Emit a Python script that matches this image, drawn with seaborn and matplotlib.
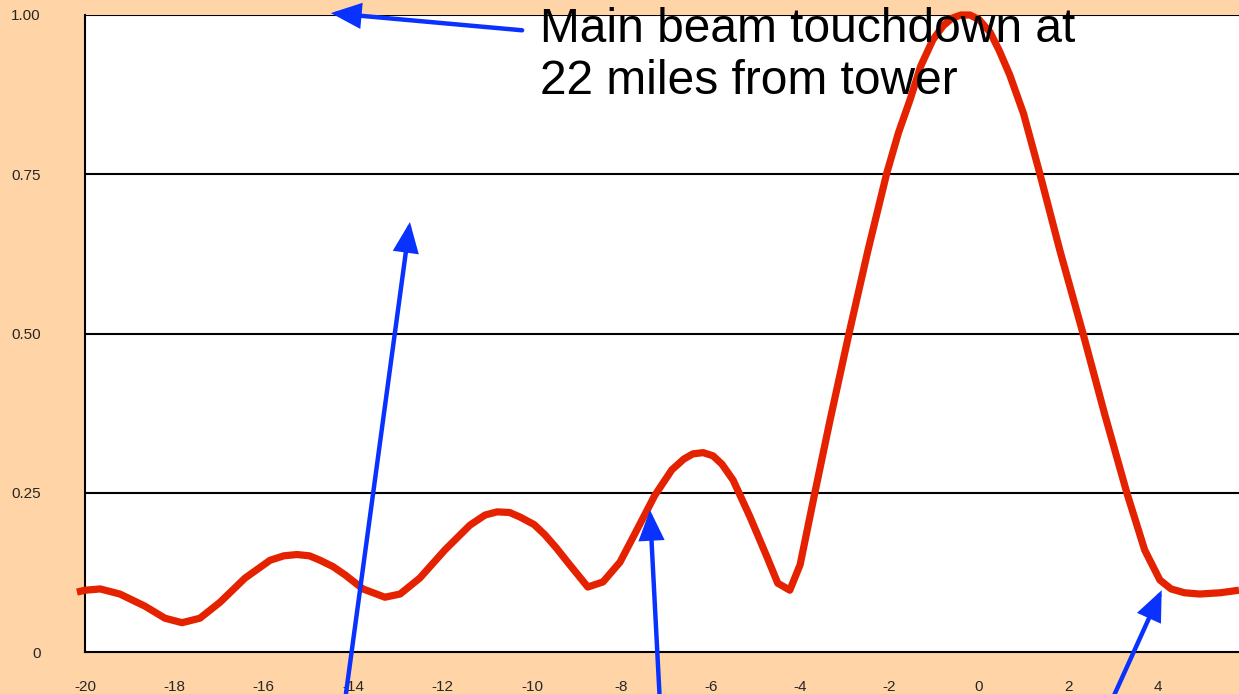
import matplotlib
matplotlib.use('Agg')
import matplotlib.pyplot as plt
import seaborn as sns
import pandas as pd

# distance from tower (miles) vs. relative beam strength
distance = [-20.18, -20.0, -19.66, -19.22, -18.66, -18.21, -17.83, -17.43, -16.98, -16.42,
            -15.86, -15.55, -15.26, -14.98, -14.74, -14.45, -14.18, -13.78, -13.29, -12.95,
            -12.51, -11.95, -11.39, -11.05, -10.78, -10.5, -10.27, -9.95, -9.71, -9.45,
            -9.19, -8.75, -8.41, -8.03, -7.65, -7.25, -6.87, -6.6, -6.4, -6.17,
            -5.95, -5.75, -5.5, -5.12, -4.74, -4.5, -4.23, -4.0, -3.67, -3.33,
            -2.89, -2.48, -2.06, -1.8, -1.54, -1.3, -1.03, -0.8, -0.6, -0.4,
            -0.2, 0.0, 0.25, 0.45, 0.69, 1.0, 1.36, 1.81, 2.33, 2.82,
            3.31, 3.71, 4.05, 4.3, 4.6, 4.94, 5.4, 5.82]
strength = [0.094, 0.097, 0.099, 0.091, 0.072, 0.053, 0.046, 0.053, 0.078, 0.116,
            0.144, 0.151, 0.153, 0.151, 0.144, 0.134, 0.121, 0.099, 0.086, 0.091,
            0.116, 0.16, 0.199, 0.215, 0.22, 0.219, 0.212, 0.2, 0.184, 0.163,
            0.14, 0.102, 0.11, 0.141, 0.192, 0.246, 0.286, 0.303, 0.311, 0.313,
            0.308, 0.295, 0.27, 0.212, 0.149, 0.108, 0.097, 0.137, 0.25, 0.364,
            0.505, 0.631, 0.752, 0.815, 0.867, 0.92, 0.961, 0.983, 0.995, 1.0,
            1.0, 0.993, 0.973, 0.945, 0.906, 0.845, 0.752, 0.631, 0.50, 0.372,
            0.25, 0.16, 0.113, 0.099, 0.093, 0.091, 0.093, 0.097]

x_ticks = [-20, -18, -16, -14, -12, -10, -8, -6, -4, -2, 0, 2, 4]
y_ticks = [0, 0.25, 0.5, 0.75, 1.0]
y_tick_labels = ['0', '0.25', '0.50', '0.75', '1.00']

note = 'Main beam touchdown at\n22 miles from tower'

peach = '#FFD5A8'
red = '#E52200'
blue = '#0A32FF'

sns.set_style('white')
plt.rcParams['font.family'] = ['Liberation Sans', 'DejaVu Sans']

df = pd.DataFrame({'distance': distance, 'strength': strength})

fig = plt.figure(figsize=(12.39, 6.94), dpi=100, facecolor=peach)
ax = fig.add_axes([85 / 1239, 42 / 694, 1 - 85 / 1239, 637 / 694])
ax.set_facecolor('white')

# grid lines
for y in y_ticks[1:]:
    ax.axhline(y, color='black', lw=1.5, zorder=1)

sns.lineplot(data=df, x='distance', y='strength', color=red, lw=5.2, ax=ax,
             sort=False, zorder=3)
curve = ax.lines[-1]
curve.set_clip_on(False)
curve.set_solid_joinstyle('round')
curve.set_solid_capstyle('butt')

ax.set_xlim(-20, 5.82)
ax.set_ylim(0, 1)
ax.set_xticks(x_ticks)
ax.set_xticklabels([str(t) for t in x_ticks])
ax.set_yticks(y_ticks)
ax.set_yticklabels(y_tick_labels)
ax.set_xlabel('')
ax.set_ylabel('')
ax.tick_params(axis='x', direction='inout', length=10, width=1.5, color='black',
               labelsize=11, pad=15)
ax.tick_params(axis='y', direction='out', length=5, width=1.5, color='black',
               labelsize=11, pad=27)

for side in ['top', 'right']:
    ax.spines[side].set_visible(False)
for side in ['left', 'bottom']:
    ax.spines[side].set_color('black')
    ax.spines[side].set_linewidth(1.5)

ax.text(-9.82, 1.013, note, fontsize=34.5, va='top', ha='left', color='black',
        linespacing=1.22, zorder=4)

arrow_style = dict(arrowstyle='-|>,head_length=0.75,head_width=0.32', color=blue,
                   lw=3.2, mutation_scale=22, shrinkA=0, shrinkB=0,
                   joinstyle='miter')
arrows = [((-14.5, 1.003), (-10.22, 0.976)),
          ((-12.73, 0.675), (-14.18, -0.075)),
          ((-7.36, 0.223), (-7.14, -0.075)),
          ((4.09, 0.097), (2.98, -0.075))]
for tip, tail in arrows:
    ax.annotate('', xy=tip, xytext=tail, arrowprops=arrow_style,
                annotation_clip=False, zorder=5)

fig.savefig('out.png', dpi=100, facecolor=peach)
